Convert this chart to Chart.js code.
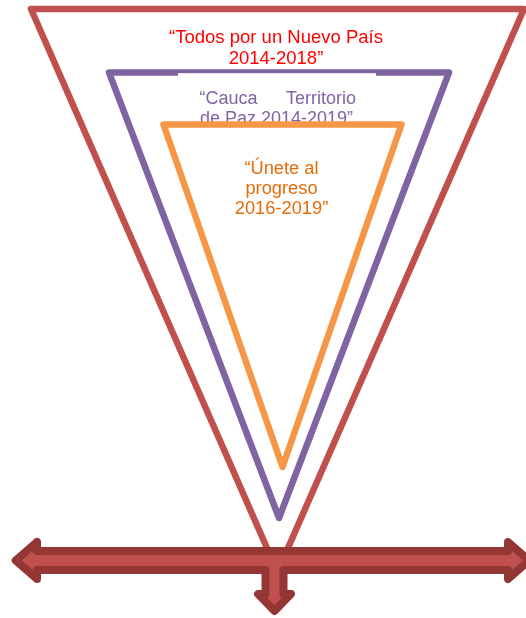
<!DOCTYPE html>
<html><head><meta charset="utf-8">
<style>html,body{margin:0;padding:0;background:#fff;overflow:hidden}canvas{display:block}</style>
<script src="https://cdn.jsdelivr.net/npm/chart.js@4.4.1/dist/chart.umd.min.js"></script>
</head><body>
<canvas id="c" width="526" height="618"></canvas>
<script>
// Outline points (diagram coordinates: x 0..526, y 0..618 from top)
const redTriangleX    = [31, 524, 277.5, 31];
const redTriangleY    = [9, 9, 572, 9];
const purpleTriangleX = [109, 449, 279, 109];
const purpleTriangleY = [72.5, 72.5, 518, 72.5];
const orangeTriangleX = [163.5, 401.5, 282.5, 163.5];
const orangeTriangleY = [124.5, 124.5, 467, 124.5];
const arrowX = [15.7, 37, 37, 508, 508, 529, 508, 508, 283.5, 283.5, 291, 274.5, 258, 265.5, 265.5, 37, 37, 15.7, 37];
const arrowY = [560.5, 542, 551, 551, 542, 560.5, 579, 570, 570, 594, 594, 611, 594, 594, 570, 570, 579, 560.5, 542];

// Texts
const redLines    = ['\u201CTodos por un Nuevo País', '2014-2018\u201D'];
const redLineY    = [43, 64];
const purpleLine1 = ['\u201CCauca', 'Territorio'];
const purpleLine2 = 'de Paz 2014-2019\u201D';
const purpleLineY = [104, 124];
const orangeLines = ['\u201CÚnete al', 'progreso', '2016-2019\u201D'];
const orangeLineY = [174, 194, 214];

const toPts = (xs, ys) => xs.map((x, i) => ({x, y: ys[i]}));

const textPlugin = {
  id: 'diagramText',
  afterDatasetDraw(chart, args) {
    if (args.index !== 2) return;
    const {ctx, scales: {x, y}} = chart;
    ctx.save();
    ctx.fillStyle = '#FFFFFF';
    ctx.fillRect(x.getPixelForValue(178), y.getPixelForValue(73.2), x.getPixelForValue(376) - x.getPixelForValue(178), y.getPixelForValue(120) - y.getPixelForValue(73.2));
    ctx.fillStyle = '#8064A2';
    ctx.font = '18px "Liberation Sans", Arial, sans-serif';
    ctx.textBaseline = 'alphabetic';
    ctx.textAlign = 'left';
    ctx.fillText(purpleLine1[0], x.getPixelForValue(199.5), y.getPixelForValue(purpleLineY[0]));
    ctx.textAlign = 'right';
    ctx.fillText(purpleLine1[1], x.getPixelForValue(356), y.getPixelForValue(purpleLineY[0]));
    ctx.textAlign = 'center';
    ctx.fillText(purpleLine2, x.getPixelForValue(276.5), y.getPixelForValue(purpleLineY[1]));
    ctx.restore();
  },
  afterDatasetsDraw(chart) {
    const {ctx, scales: {x, y}} = chart;
    ctx.save();
    ctx.textAlign = 'center';
    ctx.textBaseline = 'alphabetic';
    ctx.fillStyle = '#FF0000';
    ctx.font = '18.5px "Liberation Sans", Arial, sans-serif';
    redLines.forEach((t, i) => ctx.fillText(t, x.getPixelForValue(276), y.getPixelForValue(redLineY[i])));
    ctx.fillStyle = '#E46C0A';
    ctx.font = '18.3px "Liberation Sans", Arial, sans-serif';
    orangeLines.forEach((t, i) => ctx.fillText(t, x.getPixelForValue(281.5), y.getPixelForValue(orangeLineY[i])));
    ctx.restore();
  }
};

const lineDs = (pts, color, w, fill, bg) => ({
  data: pts, showLine: true, borderColor: color, borderWidth: w,
  borderJoinStyle: 'round', borderCapStyle: 'round',
  pointRadius: 0, pointHoverRadius: 0, tension: 0,
  fill: fill, backgroundColor: bg || 'transparent'
});

new Chart(document.getElementById('c'), {
  type: 'scatter',
  data: {
    datasets: [
      lineDs(toPts(arrowX, arrowY), '#943634', 8, 'shape', '#C0504D'),
      lineDs(toPts(orangeTriangleX, orangeTriangleY), '#F79646', 6.5, false),
      lineDs(toPts(purpleTriangleX, purpleTriangleY), '#8064A2', 6.5, false),
      lineDs(toPts(redTriangleX, redTriangleY), '#C0504D', 6.5, false)
    ]
  },
  options: {
    responsive: false,
    animation: false,
    devicePixelRatio: 1,
    events: [],
    layout: {padding: 0},
    plugins: {legend: {display: false}, tooltip: {enabled: false}, title: {display: false}},
    scales: {
      x: {type: 'linear', min: 0, max: 526, display: false},
      y: {type: 'linear', min: 0, max: 618, reverse: true, display: false}
    }
  },
  plugins: [textPlugin]
});
</script>
</body></html>
